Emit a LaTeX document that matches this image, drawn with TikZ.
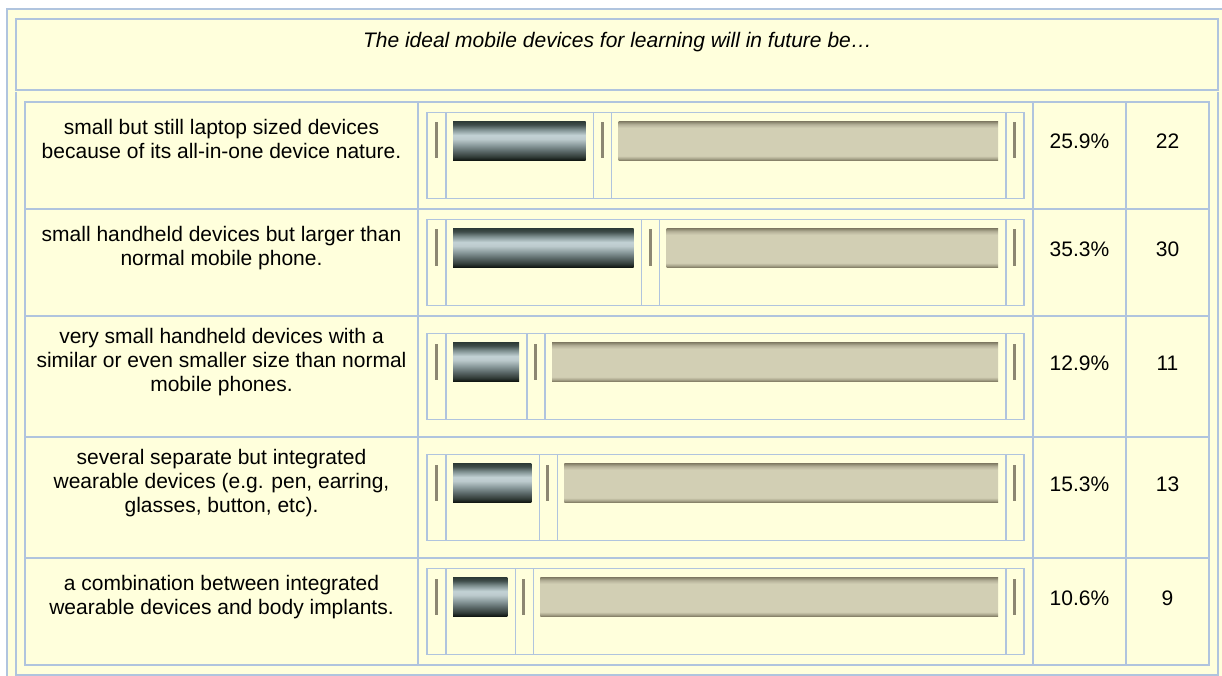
\documentclass[tikz,border=0pt]{standalone}
\usepackage{fontspec}
\setmainfont{Liberation Sans}
\definecolor{bg}{HTML}{FFFFDC}
\definecolor{grid}{HTML}{B0C4DE}
\definecolor{markc}{HTML}{8C8772}
\definecolor{dba}{HTML}{2E3B37}
\definecolor{dbb}{HTML}{3F4D4A}
\definecolor{dbc}{HTML}{7D8E8E}
\definecolor{dbd}{HTML}{C3D2D5}
\definecolor{dbe}{HTML}{BCCACD}
\definecolor{dbf}{HTML}{8C9C9E}
\definecolor{dbg}{HTML}{5D6B6B}
\definecolor{dbh}{HTML}{333D39}
\definecolor{dbi}{HTML}{0D120E}
\definecolor{bga}{HTML}{858069}
\definecolor{bgb}{HTML}{B3AF97}
\definecolor{bgc}{HTML}{D2CFB4}
\definecolor{bgd}{HTML}{A8A48B}
\definecolor{bge}{HTML}{7D785F}
\pgfdeclareverticalshading{darkbar}{100bp}{color(0bp)=(dbi); color(25bp)=(dbi); color(30bp)=(dbh); color(37.5bp)=(dbg); color(45bp)=(dbf); color(52.5bp)=(dbe); color(57.5bp)=(dbd); color(65bp)=(dbc); color(71bp)=(dbb); color(75bp)=(dba); color(100bp)=(dba)}
\pgfdeclareverticalshading{beigebar}{100bp}{color(0bp)=(bge); color(25bp)=(bge); color(27.5bp)=(bgd); color(31bp)=(bgc); color(67bp)=(bgc); color(71.5bp)=(bgb); color(75bp)=(bga); color(100bp)=(bga)}
\tikzset{
  gridline/.style={draw=grid, line width=1.6pt},
  outerline/.style={draw=grid, line width=2pt},
  subline/.style={draw=grid, line width=1.5pt},
  txt/.style={font=\fontsize{21}{24}\selectfont, align=center, inner sep=0pt, text=black},
  hdr/.style={font=\fontsize{21}{24}\selectfont\itshape, inner sep=0pt, text=black},
  markbar/.style={fill=markc, draw=none},
  darkfill/.style={shading=darkbar, draw=none},
  beigefill/.style={shading=beigebar, draw=none}
}
\begin{document}
\begin{tikzpicture}[x=1pt, y=-1pt]
\useasboundingbox (0,0) rectangle (1222,676);
\clip (0,0) rectangle (1222,676);
\fill[white] (0,0) rectangle (1222,676);
% outer table
\fill[bg] (7,9) rectangle (1227,690);
\draw[outerline] (7,690) -- (7,9) -- (1227,9);
% header cell
\draw[gridline] (16,19) rectangle (1218,90);
\node[hdr, anchor=base] (hd) at (617.5,47.5) {The ideal mobile devices for learning will in future be…};
% body cell
\draw[gridline] (16,92) -- (16,675) -- (1218,675) -- (1218,92);
% inner table
\draw[gridline] (25,102) rectangle (1209,665);
\foreach \y in {209,316,437,558} {\draw[gridline] (25,\y) -- (1209,\y);}
\foreach \x in {418,1033,1126} {\draw[gridline] (\x,102) -- (\x,665);}
% bar widgets
\foreach \C/\p in {155.5/25.9, 262.5/35.3, 376.5/12.9, 497.5/15.3, 611.5/10.6} {
  \pgfmathsetmacro{\be}{453+5.12*\p}
  \draw[subline] (427,\C-43) rectangle (1024,\C+43);
  \draw[subline] (446,\C-43) -- (446,\C+43);
  \draw[subline] (\be+8,\C-43) -- (\be+8,\C+43);
  \draw[subline] (\be+26,\C-43) -- (\be+26,\C+43);
  \draw[subline] (1006,\C-43) -- (1006,\C+43);
  \fill[markbar] (435,\C-33) rectangle (438,\C+3);
  \fill[markbar] (\be+15,\C-33) rectangle (\be+18,\C+3);
  \fill[markbar] (1013,\C-33) rectangle (1016,\C+3);
  \path[darkfill] (453,\C-34) rectangle (\be,\C+5);
  \path[beigefill] (\be+33,\C-34) rectangle (998,\C+5);
}
% texts (anchor=base is the baseline of the last line)
\node[txt, anchor=base] (t1) at (221.5,158.5) {small but still laptop sized devices\\because of its all-in-one device nature.};
\node[txt, anchor=base] (t2) at (221.5,265.5) {small handheld devices but larger than\\normal mobile phone.};
\node[txt, anchor=base] (t3) at (221.5,391.5) {very small handheld devices with a\\similar or even smaller size than normal\\mobile phones.};
\node[txt, anchor=base] (t4) at (221.5,512.5) {several separate but integrated\\wearable devices (e.g. pen, earring,\\glasses, button, etc).};
\node[txt, anchor=base] (t5) at (221.5,614.5) {a combination between integrated\\wearable devices and body implants.};
% percentages and counts
\node[txt, anchor=base] (p1) at (1079.5,149) {25.9\%};
\node[txt, anchor=base] (p2) at (1079.5,256) {35.3\%};
\node[txt, anchor=base] (p3) at (1079.5,370) {12.9\%};
\node[txt, anchor=base] (p4) at (1079.5,491) {15.3\%};
\node[txt, anchor=base] (p5) at (1079.5,605) {10.6\%};
\node[txt, anchor=base] (n1) at (1167.5,149) {22};
\node[txt, anchor=base] (n2) at (1167.5,256) {30};
\node[txt, anchor=base] (n3) at (1167.5,370) {11};
\node[txt, anchor=base] (n4) at (1167.5,491) {13};
\node[txt, anchor=base] (n5) at (1167.5,605) {9};
\end{tikzpicture}
\end{document}
